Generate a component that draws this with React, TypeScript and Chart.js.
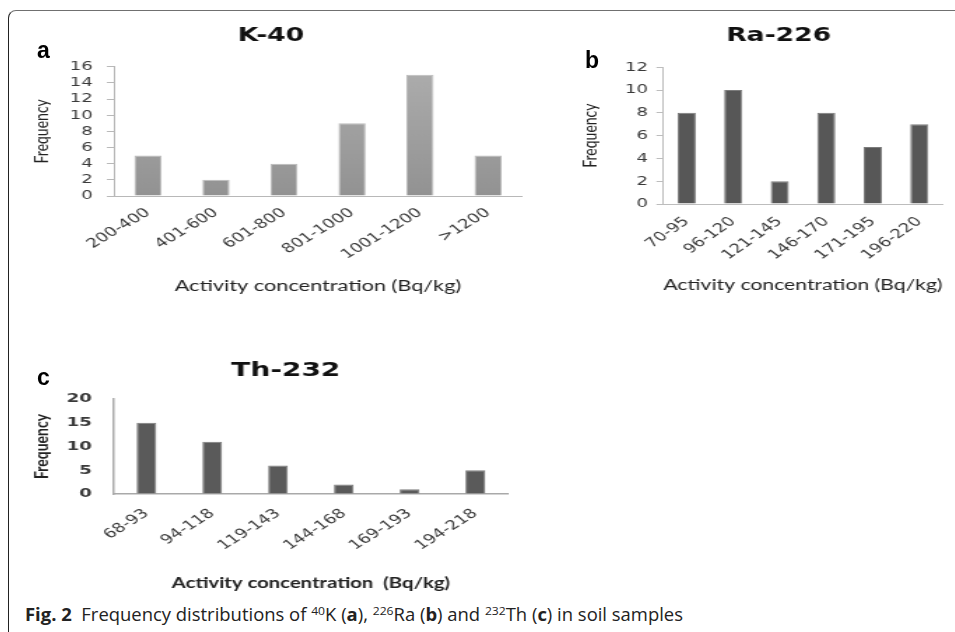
import React, { useEffect, useRef } from "react";
import { Chart, registerables } from "chart.js";

Chart.register(...registerables);

// ---------- data ----------
const kCategories = ["200-400", "401-600", "601-800", "801-1000", "1001-1200", ">1200"];
const kValues = [5, 2, 4, 9, 15, 5];

const raCategories = ["70-95", "96-120", "121-145", "146-170", "171-195", "196-220"];
const raValues = [8, 10, 2, 8, 5, 7];

const thCategories = ["68-93", "94-118", "119-143", "144-168", "169-193", "194-218"];
const thValues = [15, 11, 6, 2, 1, 5];

const kTitle = "K-40";
const raTitle = "Ra-226";
const thTitle = "Th-232";
const yTitleText = "Frequency";
const xTitleAB = "Activity concentration (Bq/kg)";
const xTitleC = "Activity concentration  (Bq/kg)";

// horizontal stretch of the original figure
const STRETCH = 1.4;

type Opts = {
  categories: string[];
  values: number[];
  title: string;
  titleSize: number;
  titlePadTop: number;
  titlePadBottom: number;
  padLeft: number;
  padRight: number;
  yWidth: number;
  xHeight: number;
  yMax: number;
  yStep: number;
  yTickBold: boolean;
  yTickPad: number;
  yTickLen: number;
  yTitleBold: boolean;
  yTitlePadTop: number;
  xRotation: number;
  xTickPad: number;
  xTitle: string;
  xTitleBold: boolean;
  xTitleSize: number;
  xTitlePadBottom: number;
  barPct: number;
  bg: any;
  border: string;
  axisColor: string;
  axisWidth: number;
  tickColor: string;
};

function buildConfig(o: Opts): any {
  return {
    type: "bar",
    data: {
      labels: o.categories,
      datasets: [
        {
          data: o.values,
          backgroundColor: o.bg,
          borderColor: o.border,
          borderWidth: 1,
          barPercentage: o.barPct,
          categoryPercentage: 1,
        },
      ],
    },
    options: {
      responsive: false,
      animation: false,
      devicePixelRatio: 1,
      layout: { padding: { left: o.padLeft, right: o.padRight, top: 0, bottom: 0 } },
      plugins: {
        legend: { display: false },
        tooltip: { enabled: false },
        title: {
          display: true,
          text: o.title,
          color: "#111",
          font: { family: "'DejaVu Sans', sans-serif", size: o.titleSize, weight: "bold", lineHeight: 1.2 },
          padding: { top: o.titlePadTop, bottom: o.titlePadBottom },
        },
      },
      scales: {
        x: {
          offset: true,
          grid: { display: false, drawTicks: false },
          border: { display: true, color: o.axisColor, width: o.axisWidth },
          ticks: {
            color: o.tickColor,
            minRotation: o.xRotation,
            maxRotation: o.xRotation,
            padding: o.xTickPad,
            autoSkip: false,
            font: { family: "'DejaVu Sans', sans-serif", size: 13 },
          },
          title: {
            display: true,
            text: o.xTitle,
            color: "#222",
            font: {
              family: "'Lato', sans-serif",
              size: o.xTitleSize,
              weight: o.xTitleBold ? "bold" : "normal",
              lineHeight: 1.2,
            },
            padding: { top: 0, bottom: o.xTitlePadBottom },
          },
          afterFit: (s: any) => {
            s.height = o.xHeight;
          },
        },
        y: {
          min: 0,
          max: o.yMax,
          grid: {
            display: true,
            drawOnChartArea: false,
            drawTicks: o.yTickLen > 0,
            tickLength: o.yTickLen,
            color: o.axisColor,
          },
          border: { display: true, color: o.axisColor, width: o.axisWidth },
          ticks: {
            stepSize: o.yStep,
            autoSkip: false,
            color: o.tickColor,
            padding: o.yTickPad,
            font: { family: "'DejaVu Sans', sans-serif", size: 13, weight: o.yTickBold ? "bold" : "normal" },
          },
          title: {
            display: true,
            text: yTitleText,
            color: "#222",
            font: { family: "'Lato', sans-serif", size: 14, weight: o.yTitleBold ? "bold" : "normal", lineHeight: 1.2 },
            padding: { top: o.yTitlePadTop, bottom: 0 },
          },
          afterFit: (s: any) => {
            s.width = o.yWidth;
          },
        },
      },
    },
  };
}

function ChartCanvas(props: { left: number; top: number; cw: number; height: number; opts: Opts }) {
  const ref = useRef<HTMLCanvasElement>(null);
  useEffect(() => {
    const chart = new Chart(ref.current as HTMLCanvasElement, buildConfig(props.opts));
    return () => chart.destroy();
  }, []);
  return (
    <canvas
      ref={ref}
      width={props.cw}
      height={props.height}
      style={{
        position: "absolute",
        left: props.left,
        top: props.top,
        width: props.cw * STRETCH + "px",
        height: props.height + "px",
      }}
    />
  );
}

const gradientA = (ctx: any) => {
  const chart = ctx.chart;
  const area = chart.chartArea;
  if (!area) return "#a0a0a0";
  const g = chart.ctx.createLinearGradient(0, area.top, 0, area.bottom);
  g.addColorStop(0, "#adadad");
  g.addColorStop(1, "#929292");
  return g;
};

const optsA: Opts = {
  categories: kCategories,
  values: kValues,
  title: kTitle,
  titleSize: 19,
  titlePadTop: 10.9,
  titlePadBottom: 19,
  padLeft: 0,
  padRight: 1.4,
  yWidth: 67.1,
  xHeight: 104,
  yMax: 16,
  yStep: 2,
  yTickBold: false,
  yTickPad: 10,
  yTickLen: 5,
  yTitleBold: false,
  yTitlePadTop: 7,
  xRotation: 40,
  xTickPad: 9,
  xTitle: xTitleAB,
  xTitleBold: false,
  xTitleSize: 15.5,
  xTitlePadBottom: 4.7,
  barPct: 0.4,
  bg: gradientA,
  border: "#bcbcbc",
  axisColor: "#b8b8b8",
  axisWidth: 1,
  tickColor: "#3a3a3a",
};

const optsB: Opts = {
  categories: raCategories,
  values: raValues,
  title: raTitle,
  titleSize: 19,
  titlePadTop: 11.1,
  titlePadBottom: 19.4,
  padLeft: 32,
  padRight: 4.6,
  yWidth: 34.8,
  xHeight: 100,
  yMax: 12,
  yStep: 2,
  yTickBold: false,
  yTickPad: 6,
  yTickLen: 5,
  yTitleBold: false,
  yTitlePadTop: -26.1,
  xRotation: 44,
  xTickPad: 10,
  xTitle: xTitleAB,
  xTitleBold: false,
  xTitleSize: 15.5,
  xTitlePadBottom: 9.7,
  barPct: 0.39,
  bg: "#575757",
  border: "#7c7c7c",
  axisColor: "#bdbdbd",
  axisWidth: 1,
  tickColor: "#3a3a3a",
};

const optsC: Opts = {
  categories: thCategories,
  values: thValues,
  title: thTitle,
  titleSize: 20,
  titlePadTop: 29,
  titlePadBottom: 16,
  padLeft: 31,
  padRight: 8.4,
  yWidth: 35.8,
  xHeight: 106,
  yMax: 20,
  yStep: 5,
  yTickBold: true,
  yTickPad: 15.4,
  yTickLen: 0,
  yTitleBold: true,
  yTitlePadTop: -23.7,
  xRotation: 41,
  xTickPad: 12,
  xTitle: xTitleC,
  xTitleBold: true,
  xTitleSize: 14.5,
  xTitlePadBottom: 8.3,
  barPct: 0.3,
  bg: "#5a5a5a",
  border: "#7e7e7e",
  axisColor: "#a9a9a9",
  axisWidth: 1.5,
  tickColor: "#3a3a3a",
};

const panelLabel: React.CSSProperties = {
  position: "absolute",
  fontFamily: "'Liberation Sans', Arial, sans-serif",
  fontWeight: "bold",
  fontSize: 23,
  lineHeight: "23px",
  color: "#000",
};

const supStyle: React.CSSProperties = { fontSize: 11.5, lineHeight: 0, verticalAlign: "0.55em" };

export default function App() {
  const capRef = useRef<HTMLSpanElement>(null);
  useEffect(() => {
    const el = capRef.current;
    if (!el) return;
    el.style.transform = "none";
    const w = el.getBoundingClientRect().width;
    if (w > 0) el.style.transform = `scaleX(${658 / w})`;
  }, []);

  return (
    <div
      style={{
        position: "absolute",
        left: 0,
        top: 0,
        width: 955,
        height: 632,
        overflow: "hidden",
        background: "#fff",
      }}
    >
      <div
        style={{
          position: "absolute",
          left: 8,
          top: 10,
          width: 980,
          height: 660,
          borderTop: "1.5px solid #707070",
          borderLeft: "1.5px solid #222",
          borderTopLeftRadius: 8,
          boxSizing: "border-box",
        }}
      />
      <ChartCanvas left={20} top={14} cw={360} height={286} opts={optsA} />
      <ChartCanvas left={570} top={14} cw={271} height={290} opts={optsB} />
      <ChartCanvas left={20} top={330} cw={357} height={270} opts={optsC} />

      <div style={{ ...panelLabel, left: 37, top: 38.5 }}>a</div>
      <div style={{ ...panelLabel, left: 585, top: 48.5 }}>b</div>
      <div style={{ ...panelLabel, left: 37, top: 365.5 }}>c</div>

      <span
        ref={capRef}
        style={{
          position: "absolute",
          left: 25,
          top: 603.2,
          whiteSpace: "nowrap",
          display: "inline-block",
          transformOrigin: "0 0",
          fontFamily: "'Open Sans', 'Noto Sans', sans-serif",
          fontSize: 17.5,
          lineHeight: "22px",
          color: "#222",
        }}
      >
        <b>Fig. 2</b>
        {"\u00a0 Frequency distributions of "}
        <sup style={supStyle}>40</sup>K (<b>a</b>),{" "}
        <sup style={supStyle}>226</sup>Ra (<b>b</b>) and{" "}
        <sup style={supStyle}>232</sup>Th (<b>c</b>) in soil samples
      </span>
    </div>
  );
}
